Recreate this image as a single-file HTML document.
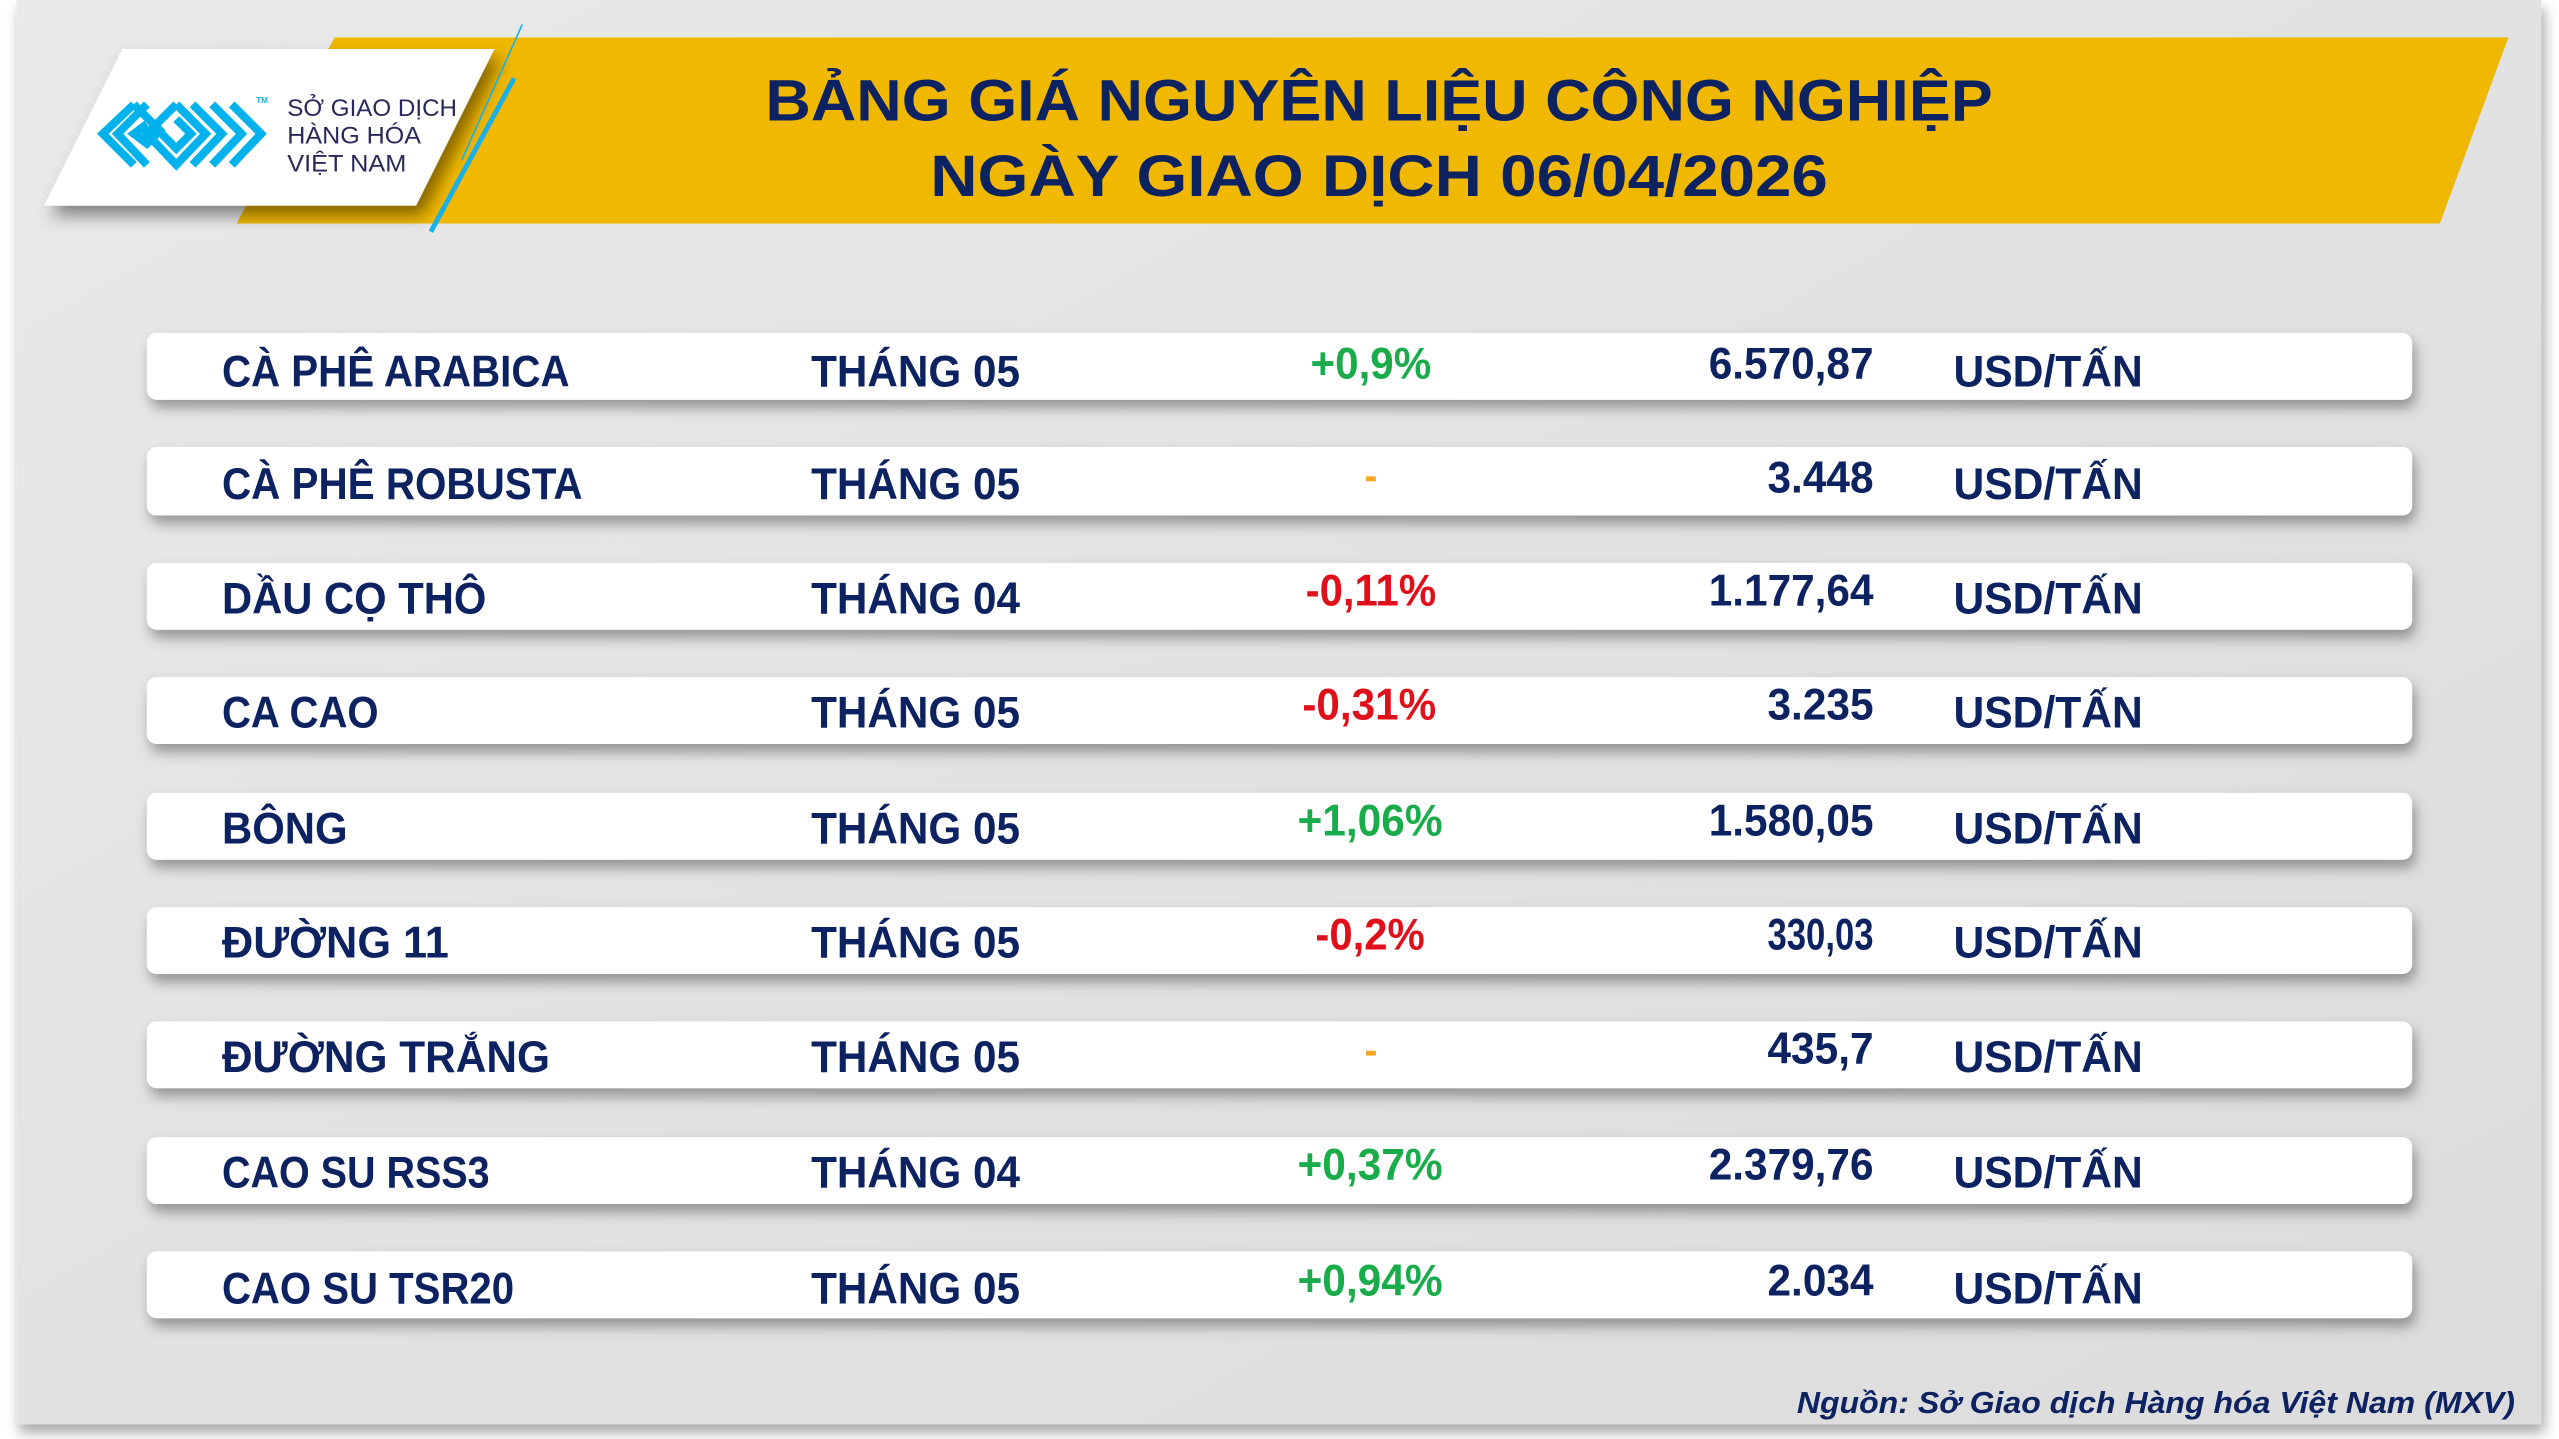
<!DOCTYPE html>
<html><head><meta charset="utf-8"><style>
html,body{margin:0;padding:0;background:#fff;width:2559px;height:1439px;overflow:hidden}
svg{display:block}
text{font-family:"Liberation Sans","Noto Sans CJK SC",sans-serif;font-weight:bold}
</style></head><body>
<svg width="2559" height="1439" viewBox="0 0 1568 882" preserveAspectRatio="none" xmlns="http://www.w3.org/2000/svg">
<defs>
<filter id="sh" x="-5%" y="-30%" width="110%" height="180%"><feDropShadow dx="2" dy="5" stdDeviation="4" flood-color="#000" flood-opacity="0.35"/></filter>
<filter id="sh2" x="-10%" y="-20%" width="130%" height="150%"><feDropShadow dx="4" dy="6" stdDeviation="5" flood-color="#000" flood-opacity="0.45"/></filter>
<linearGradient id="bg" x1="0" y1="0" x2="1" y2="1"><stop offset="0" stop-color="#e9e9e9"/><stop offset="0.5" stop-color="#e2e2e2"/><stop offset="1" stop-color="#dcdcdc"/></linearGradient>
</defs>
<rect x="10" y="0" width="1547" height="873" fill="url(#bg)" filter="url(#sh)"/>
<polygon points="205,23 1537,23 1495,137 145,137" fill="#f0b800"/>
<polygon points="75,30 303,30 255,126 27,126" fill="#fff" filter="url(#sh2)"/>
<line x1="320" y1="15" x2="283" y2="98" stroke="#1ab0e8" stroke-width="1"/>
<line x1="315" y1="48" x2="264" y2="142" stroke="#1ab0e8" stroke-width="3"/>
<g fill="none" stroke="#00b2ec" stroke-width="5" stroke-linejoin="miter">
<polyline points="82,64 63,82 82,101"/>
<polyline points="90,64 72,82 90,101"/>
<polyline points="82,64 98,80 90,88 82,82 90,76"/>
<polyline points="108,64 90,82 108,101 126,82 108,64"/>
<polyline points="99,82 108,91 117,82 108,73"/>
<polyline points="118,64 136,82 118,101"/>
<polyline points="130,64 148,82 130,101"/>
<polyline points="142,64 160,82 142,101"/>
</g>
<text x="157" y="63" font-size="5" fill="#1ab0e8" font-weight="normal">TM</text>
<g fill="#2a2a5a" font-size="15">
<text x="176" y="71" textLength="104" lengthAdjust="spacingAndGlyphs" style="font-weight:normal">SỞ GIAO DỊCH</text>
<text x="176" y="88" textLength="82" lengthAdjust="spacingAndGlyphs" style="font-weight:normal">HÀNG HÓA</text>
<text x="176" y="105" textLength="73" lengthAdjust="spacingAndGlyphs" style="font-weight:normal">VIỆT NAM</text>
</g>
<g fill="#0d2260" font-size="36">
<text x="469" y="74" textLength="752" lengthAdjust="spacingAndGlyphs">BẢNG GIÁ NGUYÊN LIỆU CÔNG NGHIỆP</text>
<text x="570" y="120" textLength="550" lengthAdjust="spacingAndGlyphs">NGÀY GIAO DỊCH 06/04/2026</text>
</g>
<g filter="url(#sh)" fill="#fff">
<rect x="90" y="204" width="1388" height="41" rx="6"/>
<rect x="90" y="274" width="1388" height="42" rx="6"/>
<rect x="90" y="345" width="1388" height="41" rx="6"/>
<rect x="90" y="415" width="1388" height="41" rx="6"/>
<rect x="90" y="486" width="1388" height="41" rx="6"/>
<rect x="90" y="556" width="1388" height="41" rx="6"/>
<rect x="90" y="626" width="1388" height="41" rx="6"/>
<rect x="90" y="697" width="1388" height="41" rx="6"/>
<rect x="90" y="767" width="1388" height="41" rx="6"/>
</g>
<g font-size="27" fill="#0d2260">
<text x="136" y="237" textLength="213" lengthAdjust="spacingAndGlyphs">CÀ PHÊ ARABICA</text>
<text x="136" y="306" textLength="221" lengthAdjust="spacingAndGlyphs">CÀ PHÊ ROBUSTA</text>
<text x="136" y="376" textLength="162" lengthAdjust="spacingAndGlyphs">DẦU CỌ THÔ</text>
<text x="136" y="446" textLength="96" lengthAdjust="spacingAndGlyphs">CA CAO</text>
<text x="136" y="517" textLength="77" lengthAdjust="spacingAndGlyphs">BÔNG</text>
<text x="136" y="587" textLength="139" lengthAdjust="spacingAndGlyphs">ĐƯỜNG 11</text>
<text x="136" y="657" textLength="201" lengthAdjust="spacingAndGlyphs">ĐƯỜNG TRẮNG</text>
<text x="136" y="728" textLength="164" lengthAdjust="spacingAndGlyphs">CAO SU RSS3</text>
<text x="136" y="799" textLength="179" lengthAdjust="spacingAndGlyphs">CAO SU TSR20</text>
</g>
<g font-size="27" fill="#0d2260">
<text x="497" y="237" textLength="128" lengthAdjust="spacingAndGlyphs">THÁNG 05</text>
<text x="497" y="306" textLength="128" lengthAdjust="spacingAndGlyphs">THÁNG 05</text>
<text x="497" y="376" textLength="128" lengthAdjust="spacingAndGlyphs">THÁNG 04</text>
<text x="497" y="446" textLength="128" lengthAdjust="spacingAndGlyphs">THÁNG 05</text>
<text x="497" y="517" textLength="128" lengthAdjust="spacingAndGlyphs">THÁNG 05</text>
<text x="497" y="587" textLength="128" lengthAdjust="spacingAndGlyphs">THÁNG 05</text>
<text x="497" y="657" textLength="128" lengthAdjust="spacingAndGlyphs">THÁNG 05</text>
<text x="497" y="728" textLength="128" lengthAdjust="spacingAndGlyphs">THÁNG 04</text>
<text x="497" y="799" textLength="128" lengthAdjust="spacingAndGlyphs">THÁNG 05</text>
</g>
<g font-size="27">
<text x="803" y="232" fill="#1aab4b" textLength="74" lengthAdjust="spacingAndGlyphs">+0,9%</text>
<rect x="837" y="292" width="6" height="3" fill="#f5a623"/>
<text x="800" y="371" fill="#e0101a" textLength="80" lengthAdjust="spacingAndGlyphs">-0,11%</text>
<text x="798" y="441" fill="#e0101a" textLength="82" lengthAdjust="spacingAndGlyphs">-0,31%</text>
<text x="795" y="512" fill="#1aab4b" textLength="89" lengthAdjust="spacingAndGlyphs">+1,06%</text>
<text x="806" y="582" fill="#e0101a" textLength="67" lengthAdjust="spacingAndGlyphs">-0,2%</text>
<rect x="837" y="644" width="6" height="3" fill="#f5a623"/>
<text x="795" y="723" fill="#1aab4b" textLength="89" lengthAdjust="spacingAndGlyphs">+0,37%</text>
<text x="795" y="794" fill="#1aab4b" textLength="89" lengthAdjust="spacingAndGlyphs">+0,94%</text>
</g>
<g font-size="27" fill="#0d2260">
<text x="1047" y="232" textLength="101" lengthAdjust="spacingAndGlyphs">6.570,87</text>
<text x="1083" y="302" textLength="65" lengthAdjust="spacingAndGlyphs">3.448</text>
<text x="1047" y="371" textLength="101" lengthAdjust="spacingAndGlyphs">1.177,64</text>
<text x="1083" y="441" textLength="65" lengthAdjust="spacingAndGlyphs">3.235</text>
<text x="1047" y="512" textLength="101" lengthAdjust="spacingAndGlyphs">1.580,05</text>
<text x="1083" y="582" textLength="65" lengthAdjust="spacingAndGlyphs">330,03</text>
<text x="1083" y="652" textLength="65" lengthAdjust="spacingAndGlyphs">435,7</text>
<text x="1047" y="723" textLength="101" lengthAdjust="spacingAndGlyphs">2.379,76</text>
<text x="1083" y="794" textLength="65" lengthAdjust="spacingAndGlyphs">2.034</text>
</g>
<g font-size="27" fill="#0d2260">
<text x="1197" y="237" textLength="116" lengthAdjust="spacingAndGlyphs">USD/TẤN</text>
<text x="1197" y="306" textLength="116" lengthAdjust="spacingAndGlyphs">USD/TẤN</text>
<text x="1197" y="376" textLength="116" lengthAdjust="spacingAndGlyphs">USD/TẤN</text>
<text x="1197" y="446" textLength="116" lengthAdjust="spacingAndGlyphs">USD/TẤN</text>
<text x="1197" y="517" textLength="116" lengthAdjust="spacingAndGlyphs">USD/TẤN</text>
<text x="1197" y="587" textLength="116" lengthAdjust="spacingAndGlyphs">USD/TẤN</text>
<text x="1197" y="657" textLength="116" lengthAdjust="spacingAndGlyphs">USD/TẤN</text>
<text x="1197" y="728" textLength="116" lengthAdjust="spacingAndGlyphs">USD/TẤN</text>
<text x="1197" y="799" textLength="116" lengthAdjust="spacingAndGlyphs">USD/TẤN</text>
</g>
<text x="1101" y="866" font-size="19" font-style="italic" fill="#0d2260" textLength="440" lengthAdjust="spacingAndGlyphs">Nguồn: Sở Giao dịch Hàng hóa Việt Nam (MXV)</text>
</svg>
</body></html>
